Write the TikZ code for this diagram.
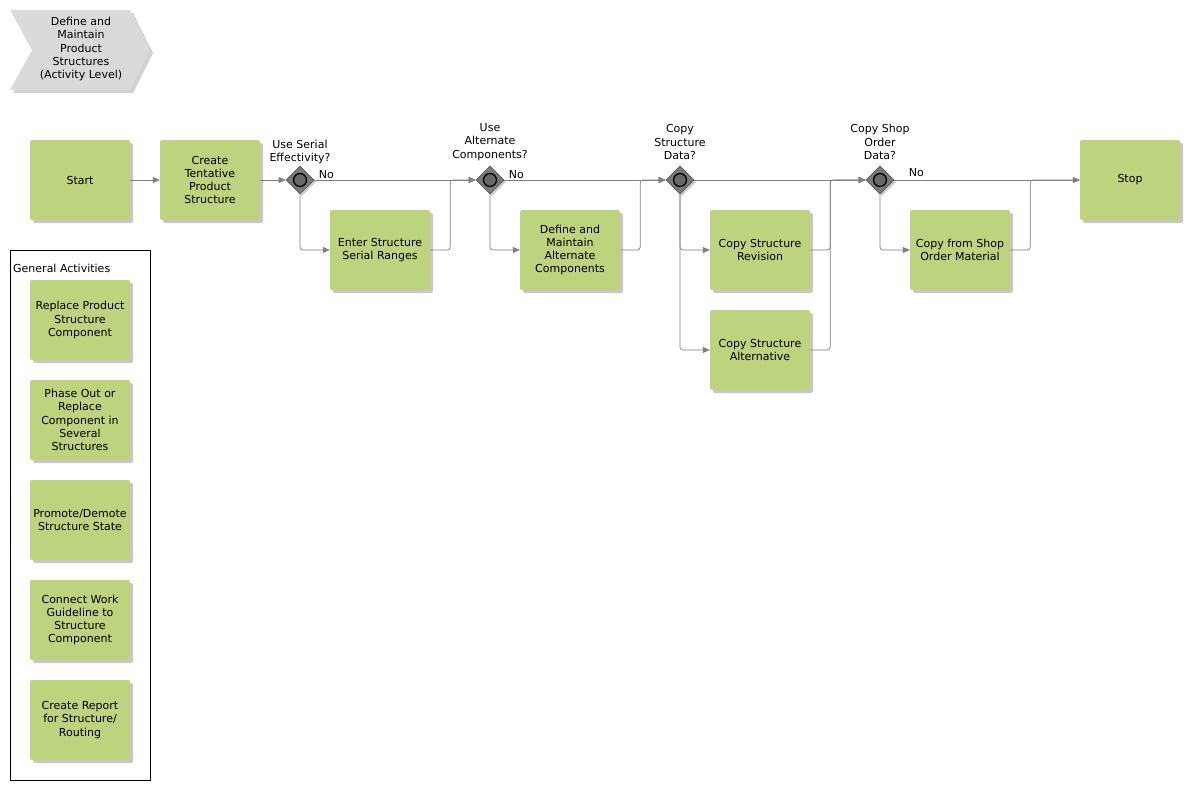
\documentclass[tikz,border=0pt]{standalone}
\usepackage{fontspec}
\setmainfont{DejaVu Sans}
\usetikzlibrary{shapes.geometric,shadows,arrows.meta,calc}
\definecolor{taskgreen}{HTML}{BDD37D}
\definecolor{linegray}{HTML}{808080}
\definecolor{gwfill}{HTML}{7A7A7A}
\definecolor{gwdraw}{HTML}{5A5A5A}
\definecolor{chevgray}{HTML}{D9DADC}
\tikzset{
  every node/.style={font=\fontsize{11}{13.3}\selectfont},
  task/.style={rectangle, rounded corners=2pt, fill=taskgreen, minimum width=100pt, minimum height=80pt,
    align=center, inner sep=1pt,
    drop shadow={shadow xshift=3pt, shadow yshift=-3pt, fill=black, opacity=0.22}},
  gateway/.style={diamond, fill=gwfill, draw=gwdraw, line width=0.6pt, minimum width=28pt, minimum height=28pt, inner sep=0pt,
    drop shadow={shadow xshift=2pt, shadow yshift=-2pt, fill=black, opacity=0.2}},
  gwring/.style={circle, draw=black, fill=gwfill!85!black, line width=1.3pt, minimum size=13pt, inner sep=0pt},
  flow/.style={draw=linegray, line width=0.7pt, rounded corners=3pt, -{Triangle[length=7pt,width=6pt]}},
  gwlabel/.style={align=center, inner sep=0pt},
}
\begin{document}
\begin{tikzpicture}[x=1pt,y=-1pt]
\useasboundingbox (0,0) rectangle (1190,790);
% chevron
\fill[black,opacity=0.18] (13,13) -- (133,13) -- (153,53) -- (133,93) -- (13,93) -- (35,53) -- cycle;
\fill[chevgray] (10,10) -- (130,10) -- (150,50) -- (130,90) -- (10,90) -- (32,50) -- cycle;
\node[align=center, inner sep=0pt] (title) at (81,49) {Define and\\Maintain\\Product\\Structures\\(Activity Level)};

% main tasks
\node[task] (start) at (80,180) {Start};
\node[task] (create) at (210,180) {Create\\Tentative\\Product\\Structure};
\node[gateway] (g1) at (300,180) {};
\node[gwring] (g1r) at (g1.center) {};
\node[task] (enter) at (380,250) {Enter Structure\\Serial Ranges};
\node[gateway] (g2) at (490,180) {};
\node[gwring] (g2r) at (g2.center) {};
\node[task] (alt) at (570,250) {Define and\\Maintain\\Alternate\\Components};
\node[gateway] (g3) at (680,180) {};
\node[gwring] (g3r) at (g3.center) {};
\node[task] (rev) at (760,250) {Copy Structure\\Revision};
\node[task] (calt) at (760,350) {Copy Structure\\Alternative};
\node[gateway] (g4) at (880,180) {};
\node[gwring] (g4r) at (g4.center) {};
\node[task] (shop) at (960,250) {Copy from Shop\\Order Material};
\node[task] (stop) at (1130,180) {Stop};

% gateway labels
\node[gwlabel] (l1) at (300,152) {Use Serial\\Effectivity?};
\node[gwlabel] (l2) at (490,142) {Use\\Alternate\\Components?};
\node[gwlabel] (l3) at (680,142) {Copy\\Structure\\Data?};
\node[gwlabel] (l4) at (880,142) {Copy Shop\\Order\\Data?};

% connectors
\draw[flow] (start.east) -- (create.west);
\draw[flow] (create.east) -- (g1.west);
\draw[flow] (g1.east) -- node[pos=0.02, anchor=south west, inner sep=1pt] (no1) {No} (g2.west);
\draw[flow] (g1.south) |- (enter.west);
\draw[flow] (enter.east) -- ++(20,0) |- (g2.west);
\draw[flow] (g2.east) -- node[pos=0.02, anchor=south west, inner sep=1pt] (no2) {No} (g3.west);
\draw[flow] (g2.south) |- (alt.west);
\draw[flow] (alt.east) -- ++(20,0) |- (g3.west);
\draw[flow] (g3.east) -- (g4.west);
\draw[flow] (g3.south) |- (rev.west);
\draw[flow] (g3.south) |- (calt.west);
\draw[flow] (rev.east) -- ++(20,0) |- (g4.west);
\draw[flow] (calt.east) -- ++(20,0) |- (g4.west);
\draw[flow] (g4.east) -- node[pos=0.06, anchor=south west, inner sep=3pt] (no4) {No} (stop.west);
\draw[flow] (g4.south) |- (shop.west);
\draw[flow] (shop.east) -- ++(20,0) |- (stop.west);

% general activities
\draw[black, line width=0.6pt] (10,250) rectangle (150,780);
\node[anchor=west, inner sep=0pt] (ga) at (13,268) {General Activities};
\node[task] (a1) at (80,320) {Replace Product\\Structure\\Component};
\node[task] (a2) at (80,420) {Phase Out or\\Replace\\Component in\\Several\\Structures};
\node[task] (a3) at (80,520) {Promote/Demote\\Structure State};
\node[task] (a4) at (80,620) {Connect Work\\Guideline to\\Structure\\Component};
\node[task] (a5) at (80,720) {Create Report\\for Structure/\\Routing};
\end{tikzpicture}
\end{document}
